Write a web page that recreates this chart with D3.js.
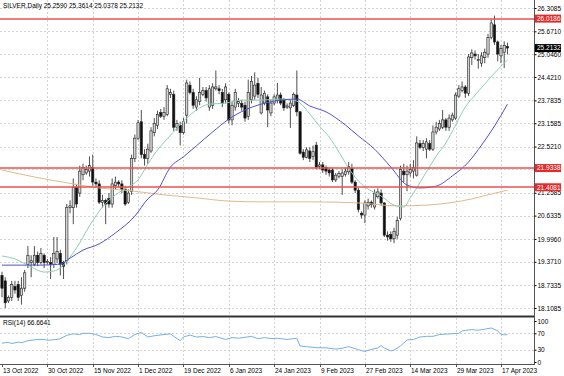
<!DOCTYPE html>
<html>
<head>
<meta charset="utf-8">
<script src="https://cdnjs.cloudflare.com/ajax/libs/d3/7.8.5/d3.min.js"></script>
<style>
  html, body { margin: 0; padding: 0; background: #fff; }
  svg { display: block; }
  text { font-family: "Liberation Sans", Arial, sans-serif; font-size: 6.5px; fill: #000; }
</style>
</head>
<body>
<div id="chart"></div>
<script>
const symbol = 'SILVER,Daily';
const lastQuote = ['25.2590', '25.3614', '25.0378', '25.2132'];
const rsiTitle = 'RSI(14) 66.6641';

// one label every 14 bars
const dateLabels = ['13 Oct 2022', '30 Oct 2022', '15 Nov 2022', '1 Dec 2022', '19 Dec 2022', '6 Jan 2023',
  '24 Jan 2023', '9 Feb 2023', '27 Feb 2023', '14 Mar 2023', '29 Mar 2023', '17 Apr 2023'];
const labelEvery = 14;

const priceTicks = [26.3085, 25.6710, 25.0460, 24.4210, 23.7835, 23.1585, 22.5210, 21.8960,
  21.2585, 20.6335, 19.9960, 19.3710, 18.7335, 18.1085];
const levels = [26.0186, 21.9338, 21.4081];
const lastPrice = 25.2132;
const rsiTicks = [100, 70, 30, 0];

// open, high, low, close
const ohlc = [
  [19.0, 19.1, 18.4, 18.65], [18.85, 18.95, 18.1, 18.25], [18.3, 18.45, 18.25, 18.4], [18.4, 18.85, 18.3, 18.75],
  [18.7, 18.85, 18.5, 18.6], [18.75, 18.85, 18.3, 18.4], [18.45, 18.95, 18.2, 18.65], [18.65, 19.15, 18.55, 19.07],
  [19.3, 19.8, 19.2, 19.55], [19.35, 19.55, 18.95, 19.4], [19.3, 19.8, 19.25, 19.55], [19.55, 19.65, 19.25, 19.35],
  [19.35, 19.75, 19.3, 19.6], [19.55, 19.6, 19.2, 19.35], [19.35, 19.45, 19.3, 19.38], [19.35, 19.5, 18.9, 19.3],
  [19.3, 20.05, 19.2, 19.6], [19.45, 20.05, 19.35, 19.65], [19.6, 19.7, 19.0, 19.3], [19.35, 19.4, 18.9, 19.25],
  [19.4, 20.95, 19.3, 20.85], [20.85, 21.05, 20.7, 20.9], [20.85, 21.65, 20.4, 21.4], [21.4, 21.5, 20.85, 20.95],
  [21.25, 22.0, 21.15, 21.85], [21.75, 22.05, 21.6, 21.95], [21.8, 22.0, 21.75, 21.9], [21.85, 22.25, 21.7, 22.0],
  [21.95, 22.3, 21.45, 21.55], [21.55, 21.65, 21.4, 21.5], [21.5, 21.6, 20.95, 21.0], [21.0, 21.2, 20.85, 21.05],
  [21.05, 21.1, 20.4, 20.95], [21.1, 21.25, 20.85, 20.95], [20.95, 21.65, 20.85, 21.5], [21.45, 21.7, 21.35, 21.55],
  [21.55, 21.6, 21.4, 21.5], [21.5, 21.6, 21.25, 21.35], [21.35, 21.45, 20.9, 20.95], [21.0, 21.35, 20.95, 21.25],
  [21.3, 22.3, 21.2, 22.2],
  [22.2, 22.85, 22.1, 22.75], [22.75, 23.25, 22.7, 23.17], [23.2, 23.52, 22.2, 22.3], [22.3, 22.45, 22.0, 22.2],
  [22.2, 22.6, 22.05, 22.45], [22.4, 23.05, 22.35, 22.95], [22.9, 23.3, 22.8, 23.15], [23.1, 23.5, 23.0, 23.4],
  [23.45, 23.55, 23.3, 23.35], [23.35, 23.6, 23.25, 23.45], [23.4, 24.2, 23.35, 24.1], [23.95, 24.1, 23.85, 24.0],
  [23.95, 24.05, 22.95, 23.05], [23.05, 23.25, 22.95, 23.15], [23.1, 23.2, 22.55, 22.9], [22.9, 23.3, 22.85, 23.2],
  [23.38, 24.35, 23.15, 24.26], [24.2, 24.3, 23.95, 24.0], [24.0, 24.1, 23.55, 23.65], [23.6, 23.9, 23.5, 23.8],
  [23.75, 24.4, 23.65, 24.0], [23.95, 24.15, 23.9, 24.05], [24.05, 24.15, 23.75, 23.85], [23.6, 24.2, 23.5, 24.1],
  [23.65, 24.25, 23.55, 24.15], [24.1, 24.6, 24.05, 24.15], [24.1, 24.2, 23.95, 24.05], [24.0, 24.1, 23.6, 23.7],
  [23.8, 24.25, 23.7, 24.15], [23.95, 24.0, 23.15, 23.25], [23.25, 23.75, 23.1, 23.65], [23.6, 24.1, 23.5, 24.0],
  [23.7, 23.85, 23.6, 23.75], [23.7, 23.8, 23.5, 23.6], [23.65, 23.75, 23.2, 23.3], [23.35, 24.35, 23.25, 24.0],
  [23.8, 24.45, 23.7, 24.3], [23.9, 24.55, 23.8, 24.2], [24.25, 24.4, 23.85, 23.95],
  [23.44, 24.15, 23.4, 23.93], [23.71, 24.05, 23.65, 23.98], [23.88, 23.95, 23.05, 23.52], [23.44, 23.8, 23.35, 23.71],
  [23.71, 23.95, 23.65, 23.88], [23.79, 24.26, 23.7, 23.93], [23.93, 24.0, 23.65, 23.71], [23.79, 23.85, 23.5, 23.58],
  [23.6, 23.7, 23.55, 23.63], [23.58, 23.8, 23.03, 23.71], [23.65, 24.0, 23.6, 23.95], [23.93, 24.6, 23.35, 23.47],
  [23.47, 23.5, 22.3, 22.34], [22.37, 22.45, 22.15, 22.23], [22.23, 22.5, 22.2, 22.43], [22.4, 22.5, 22.1, 22.2],
  [22.25, 22.55, 22.15, 22.38], [22.56, 22.65, 21.9, 21.96], [21.98, 22.1, 21.9, 22.02], [22.02, 22.1, 21.8, 21.88],
  [21.95, 22.0, 21.75, 21.85], [21.88, 21.95, 21.7, 21.8], [21.88, 21.95, 21.55, 21.61], [21.61, 21.8, 21.55, 21.74],
  [21.7, 21.85, 21.65, 21.78], [21.7, 21.9, 21.2, 21.8], [21.76, 21.95, 21.7, 21.85], [21.83, 22.1, 21.75, 21.97],
  [21.92, 22.05, 21.5, 21.55], [21.55, 21.6, 21.25, 21.33], [21.33, 21.4, 20.72, 20.8], [20.7, 20.75, 20.55, 20.65],
  [20.65, 21.05, 20.43, 20.98], [20.9, 21.1, 20.8, 21.0], [21.0, 21.05, 20.85, 20.93], [20.87, 21.35, 20.8, 21.25],
  [21.15, 21.38, 21.1, 21.28], [21.25, 21.35, 20.9, 20.98], [20.98, 21.0, 20.05, 20.1], [20.1, 20.2, 19.95, 20.05],
  [20.12, 20.2, 19.92, 20.0],
  [20.0, 20.3, 19.88, 20.2], [20.1, 20.6, 20.0, 20.5], [20.55, 22.0, 20.5, 21.9], [21.85, 22.05, 21.55, 21.75],
  [21.75, 22.0, 21.3, 21.85], [21.8, 22.05, 21.7, 21.9], [21.85, 22.15, 21.65, 21.95], [21.74, 22.8, 21.7, 22.62],
  [22.6, 22.7, 22.45, 22.5], [22.5, 22.7, 22.4, 22.6], [22.45, 22.75, 22.2, 22.65], [22.6, 22.7, 22.4, 22.45],
  [22.45, 23.1, 22.4, 22.92], [22.92, 23.2, 22.85, 23.05], [23.0, 23.25, 22.95, 23.15], [23.05, 23.52, 23.0, 23.25],
  [23.25, 23.3, 22.95, 23.05], [23.05, 23.4, 22.95, 23.3], [23.25, 23.45, 23.2, 23.38], [23.3, 24.0, 23.25, 23.93],
  [23.9, 24.2, 23.85, 24.1], [24.05, 24.3, 24.0, 24.15], [24.15, 24.2, 23.85, 23.98], [23.98, 25.05, 23.9, 24.97],
  [24.95, 25.18, 24.75, 25.08], [25.05, 25.15, 24.9, 25.0], [24.88, 25.05, 24.65, 24.9], [24.8, 25.1, 24.7, 25.0],
  [24.95, 25.2, 24.8, 25.1], [25.05, 25.6, 24.95, 25.5], [25.5, 26.0, 25.45, 25.9], [25.85, 26.1, 25.3, 25.38],
  [25.38, 25.42, 24.85, 25.05], [25.0, 25.3, 24.8, 25.2], [25.1, 25.4, 24.67, 25.28], [25.259, 25.3614, 25.0378, 25.2132]
];

// moving averages: [bar index, value]
const maFast = [[0, 19.53], [4, 19.45], [9, 19.23], [13, 19.09], [16, 19.12], [18, 19.20], [20, 19.39], [23, 19.75],
  [27, 20.35], [31, 20.87], [35, 21.20], [39, 21.42], [42, 21.61], [45, 22.04], [48, 22.43], [51, 22.73], [54, 23.03],
  [57, 23.30], [60, 23.52], [64, 23.68], [69, 23.71], [74, 23.79], [80, 23.79], [86, 23.82], [90, 23.79], [92, 23.71],
  [95, 23.41], [98, 23.08], [101, 22.78], [104, 22.37], [107, 21.93], [110, 21.58], [113, 21.36], [117, 21.17],
  [121, 20.92], [124, 20.87], [126, 21.12], [128, 21.39], [131, 21.83], [134, 22.26], [137, 22.62], [140, 23.11],
  [143, 23.60], [146, 23.93], [149, 24.23], [152, 24.53], [156, 24.89]];
const maMid = [[0, 19.28], [6, 19.28], [12, 19.28], [18, 19.31], [21, 19.47], [25, 19.69], [30, 19.86], [35, 20.16],
  [41, 20.62], [45, 21.09], [48, 21.33], [52, 21.96], [56, 22.24], [60, 22.54], [65, 22.92], [70, 23.27], [75, 23.52],
  [80, 23.68], [86, 23.79], [91, 23.82], [95, 23.63], [100, 23.47], [106, 23.11], [110, 22.81], [115, 22.45],
  [120, 21.96], [125, 21.47], [129, 21.39], [134, 21.44], [139, 21.72], [144, 22.10], [148, 22.56], [152, 23.08],
  [156, 23.68]];
const maSlow = [[0, 21.88], [10, 21.69], [20, 21.53], [30, 21.39], [40, 21.31], [50, 21.20], [60, 21.12], [70, 21.03],
  [80, 21.01], [95, 21.01], [110, 20.98], [122, 20.90], [131, 20.92], [138, 20.98], [145, 21.09], [150, 21.20],
  [156, 21.33]];

const rsi = [[0, 46], [1, 47], [2, 48], [3, 45], [5, 48.5], [6, 47], [8, 52], [11, 55], [13, 55], [14, 53], [17, 55],
  [18, 57], [20, 65], [22, 68.5], [24, 67], [25, 70], [27, 70], [29, 67], [31, 61], [33, 59.6], [35, 62.6], [37, 61],
  [39, 56.7], [41, 67], [43, 72], [45, 61], [47, 64], [50, 67], [52, 68.5], [53, 62.6], [55, 52], [56, 61], [58, 65.6],
  [60, 61], [62, 62], [64, 59.6], [66, 62], [69, 55], [71, 59.6], [73, 58], [77, 62.6], [79, 56.7], [81, 59.6],
  [83, 57], [85, 58], [88, 55], [90, 57], [91, 58], [92, 39], [94, 37.4], [97, 35], [100, 34.4], [103, 31.5],
  [105, 33.5], [107, 37.4], [110, 30], [112, 25.6], [113, 28.5], [116, 34.4], [117, 40], [118, 34], [120, 27],
  [121, 29], [123, 39], [125, 53.7], [127, 55], [129, 61], [131, 62.6], [133, 62.6], [135, 67], [138, 68.5],
  [141, 70], [142, 76], [145, 79], [147, 77.4], [149, 80], [151, 83], [153, 76], [154, 67], [155, 66.5], [156, 66.66]];

var W = 564, H = 376, axisX = 534;
var mainBottom = 316, rsiTop = 318, rsiBottom = 364;
var barStep = 3.24, bodyW = 2.3;
var fmt = d3.format('.4f');

var x = d3.scaleLinear()
  .domain([0, ohlc.length - 1])
  .range([2, 2 + (ohlc.length - 1) * barStep]);

var y = d3.scaleLinear()
  .domain([priceTicks[priceTicks.length - 1], priceTicks[0]])
  .range([308, 8]);

var yr = d3.scaleLinear()
  .domain([0, 100])
  .range([362, 321]);

var svg = d3.select('#chart')
  .append('svg')
  .attr('width', W)
  .attr('height', H);

svg.append('rect').attr('width', W).attr('height', H).attr('fill', '#fff');

var defs = svg.append('defs');
defs.append('clipPath').attr('id', 'clip-main')
  .append('rect').attr('x', 0).attr('y', 0).attr('width', axisX).attr('height', mainBottom);
defs.append('clipPath').attr('id', 'clip-rsi')
  .append('rect').attr('x', 0).attr('y', rsiTop).attr('width', axisX).attr('height', rsiBottom - rsiTop);

// grid
var grid = svg.append('g')
  .attr('stroke', '#c8c8c8')
  .attr('stroke-width', 0.8)
  .attr('stroke-dasharray', '2,2');

dateLabels.forEach(function(d, i) {
  if (i === 0) return;
  var gx = Math.round(x(i * labelEvery)) + 0.5;
  grid.append('line').attr('x1', gx).attr('x2', gx).attr('y1', 0).attr('y2', mainBottom);
  grid.append('line').attr('x1', gx).attr('x2', gx).attr('y1', rsiTop).attr('y2', rsiBottom);
});

priceTicks.forEach(function(p) {
  var gy = Math.round(y(p)) + 0.5;
  grid.append('line').attr('x1', 0).attr('x2', axisX).attr('y1', gy).attr('y2', gy);
});

[70, 30].forEach(function(v) {
  var gy = Math.round(yr(v)) + 0.5;
  grid.append('line').attr('x1', 0).attr('x2', axisX).attr('y1', gy).attr('y2', gy);
});

// candles
var main = svg.append('g').attr('clip-path', 'url(#clip-main)');

var candle = main.selectAll('g.candle')
  .data(ohlc)
  .enter()
  .append('g')
  .attr('class', 'candle');

candle.append('line')
  .attr('x1', (d, i) => x(i))
  .attr('x2', (d, i) => x(i))
  .attr('y1', d => y(d[1]))
  .attr('y2', d => y(d[2]))
  .attr('stroke', '#222')
  .attr('stroke-width', 0.8);

candle.append('rect')
  .attr('x', (d, i) => x(i) - bodyW / 2)
  .attr('y', d => y(Math.max(d[0], d[3])))
  .attr('width', bodyW)
  .attr('height', d => Math.max(0.8, Math.abs(y(d[0]) - y(d[3]))))
  .attr('fill', d => d[3] >= d[0] ? '#d4d4d4' : '#111')
  .attr('stroke', '#222')
  .attr('stroke-width', 0.6);

// moving averages
var maLine = d3.line()
  .x(d => x(d[0]))
  .y(d => y(d[1]))
  .curve(d3.curveMonotoneX);

[[maSlow, '#e2b98c'], [maFast, '#8ccfb2'], [maMid, '#5252cc']].forEach(function(m) {
  main.append('path')
    .datum(m[0])
    .attr('d', maLine)
    .attr('fill', 'none')
    .attr('stroke', m[1])
    .attr('stroke-width', 1);
});

// RSI
var rsiLine = d3.line()
  .x(d => x(d[0]))
  .y(d => yr(d[1]));

svg.append('g').attr('clip-path', 'url(#clip-rsi)')
  .append('path')
  .datum(rsi)
  .attr('d', rsiLine)
  .attr('fill', 'none')
  .attr('stroke', '#76b0e4')
  .attr('stroke-width', 1);

// horizontal levels, drawn over the bars
svg.append('g')
  .selectAll('line.level')
  .data(levels)
  .enter()
  .append('line')
  .attr('class', 'level')
  .attr('x1', 0).attr('x2', axisX)
  .attr('y1', d => Math.round(y(d)))
  .attr('y2', d => Math.round(y(d)))
  .attr('stroke', '#ee5050')
  .attr('stroke-width', 1.5);

// frame
svg.append('line')
  .attr('x1', 0).attr('x2', axisX)
  .attr('y1', mainBottom + 0.5).attr('y2', mainBottom + 0.5)
  .attr('stroke', '#333').attr('stroke-width', 2);
svg.append('line')
  .attr('x1', 0).attr('x2', axisX + 0.5)
  .attr('y1', rsiBottom + 0.5).attr('y2', rsiBottom + 0.5)
  .attr('stroke', '#555').attr('stroke-width', 1);
svg.append('line')
  .attr('x1', axisX + 0.5).attr('x2', axisX + 0.5)
  .attr('y1', 0).attr('y2', rsiBottom + 1)
  .attr('stroke', '#555').attr('stroke-width', 1);

// price axis; labels hidden behind a level tag are left out
var yAxis = d3.axisRight(y)
  .tickValues(priceTicks)
  .tickSize(2)
  .tickSizeOuter(0)
  .tickPadding(1)
  .tickFormat(d => levels.some(v => Math.abs(v - d) < 0.06) ? '' : fmt(d));

var ay = svg.append('g')
  .attr('transform', 'translate(' + (axisX + 0.5) + ',0)')
  .call(yAxis);
ay.select('.domain').remove();
ay.attr('font-family', null).attr('font-size', null);

function priceTag(v, fill) {
  var g = svg.append('g').attr('transform', 'translate(' + (axisX + 1) + ',' + y(v) + ')');
  g.append('rect')
    .attr('x', 0).attr('y', -4)
    .attr('width', 26).attr('height', 8)
    .attr('fill', fill);
  g.append('text')
    .attr('x', 2).attr('dy', '0.35em')
    .style('fill', '#fff')
    .text(fmt(v));
}
levels.forEach(v => priceTag(v, '#e42b2b'));
priceTag(lastPrice, '#000');

// RSI axis
var rAxis = d3.axisRight(yr)
  .tickValues(rsiTicks)
  .tickSize(2)
  .tickSizeOuter(0)
  .tickPadding(1);

var ar = svg.append('g')
  .attr('transform', 'translate(' + (axisX + 0.5) + ',0)')
  .call(rAxis);
ar.select('.domain').remove();
ar.attr('font-family', null).attr('font-size', null);

// time axis
var ax = svg.append('g');
dateLabels.forEach(function(d, i) {
  var tx = Math.round(x(i * labelEvery)) + 0.5;
  ax.append('line')
    .attr('x1', tx).attr('x2', tx)
    .attr('y1', rsiBottom).attr('y2', rsiBottom + 3)
    .attr('stroke', '#555');
  ax.append('text')
    .attr('x', tx + 0.5)
    .attr('y', 372.5)
    .text(d);
});

// titles
svg.append('text').attr('x', 3).attr('y', 8).text(symbol + '  ' + lastQuote.join(' '));
svg.append('text').attr('x', 3).attr('y', 325).text(rsiTitle);
</script>
</body>
</html>
